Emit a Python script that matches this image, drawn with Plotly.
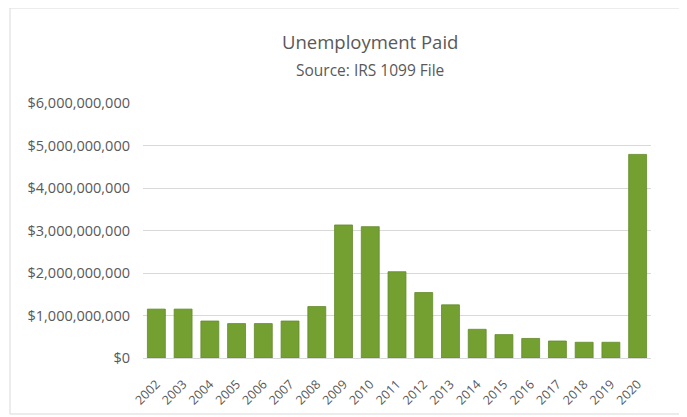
import plotly.graph_objects as go

years = [str(y) for y in range(2002, 2021)]
paid = [1.15e9, 1.15e9, 0.87e9, 0.81e9, 0.81e9, 0.87e9, 1.21e9, 3.13e9, 3.09e9,
        2.03e9, 1.54e9, 1.25e9, 0.675e9, 0.55e9, 0.46e9, 0.40e9, 0.37e9, 0.37e9, 4.79e9]
tick_vals = [0, 1e9, 2e9, 3e9, 4e9, 5e9, 6e9]
tick_text = ["$0", "$1,000,000,000", "$2,000,000,000", "$3,000,000,000",
             "$4,000,000,000", "$5,000,000,000", "$6,000,000,000"]

# page offset (browser body margin)
OFF = 8
W, H = 687, 417
# desired plot area in page pixels
PL, PR, PT, PB = 143, 651, 103, 358
ml = PL - OFF
mt = PT - OFF
mr = W - (PR - OFF)
mb = H - (PB - OFF)
plot_w = PR - PL
plot_h = PB - PT

def xpix(px):
    return (px - PL) / plot_w

def ypix(py):
    return (PB - py) / plot_h

fig = go.Figure(go.Bar(
    x=years, y=paid,
    marker=dict(color="#74A032", line=dict(color="#628a28", width=0.8)),
))

fig.update_layout(
    width=W, height=H,
    margin=dict(l=ml, r=mr, t=mt, b=mb, autoexpand=False),
    paper_bgcolor="white", plot_bgcolor="white",
    bargap=0.33,
    showlegend=False,
    font=dict(family="Open Sans, Calibri, sans-serif", color="#595959"),
    annotations=[
        dict(text="Unemployment Paid", x=xpix(370), xref="paper", y=ypix(42), yref="paper",
             showarrow=False, font=dict(size=18.5, color="#595959"),
             xanchor="center", yanchor="middle"),
        dict(text="Source: IRS 1099 File", x=xpix(370), xref="paper", y=ypix(70), yref="paper",
             showarrow=False, font=dict(size=15.5, color="#595959"),
             xanchor="center", yanchor="middle"),
    ],
    shapes=[
        dict(type="rect", xref="paper", yref="paper",
             x0=xpix(10), x1=xpix(690), y0=ypix(414), y1=ypix(8),
             line=dict(color="#d9d9d9", width=1), layer="below"),
    ],
)

fig.update_xaxes(
    type="category", tickangle=-45, showgrid=False,
    showline=True, linecolor="#d9d9d9", linewidth=1,
    ticks="", tickfont=dict(size=12.5, color="#595959"), ticklabelstandoff=13,
)
fig.update_yaxes(
    range=[0, 6e9], tickvals=tick_vals, ticktext=tick_text,
    showgrid=True, gridcolor="#d9d9d9", gridwidth=1,
    zeroline=False, showline=False, ticks="",
    tickfont=dict(size=14.5, color="#595959"), ticklabelstandoff=12,
)

fig.write_html("out.html")
